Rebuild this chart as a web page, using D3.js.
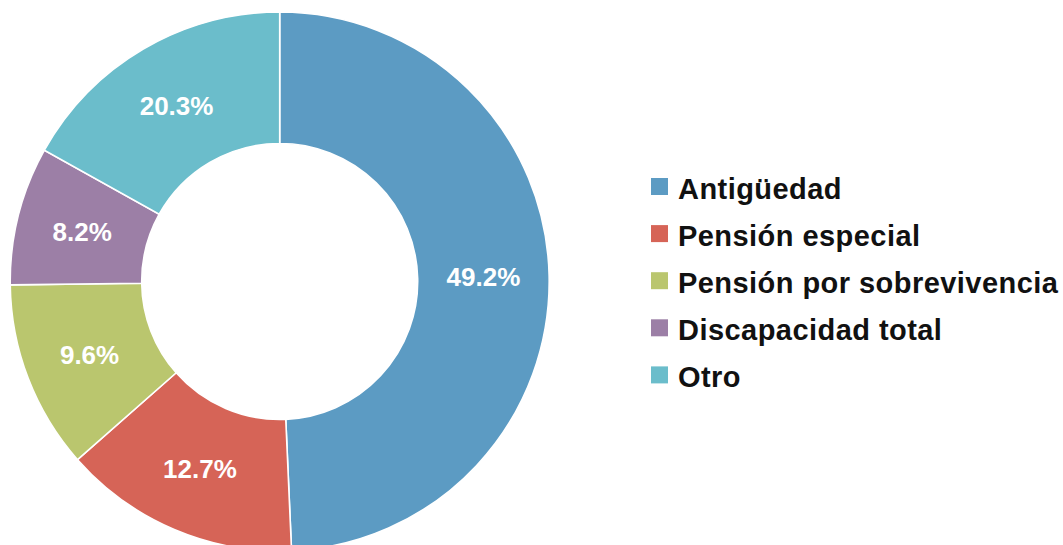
<!DOCTYPE html>
<html>
<head>
<meta charset="utf-8">
<script src="https://cdn.jsdelivr.net/npm/d3@7"></script>
<style>
  html, body { margin: 0; padding: 0; background: #ffffff; }
  svg { display: block; }
</style>
</head>
<body>
<svg id="chart" width="1063" height="545"></svg>
<script>
// Categories (legend order, clockwise from 12 o'clock)
const categories = ["Antigüedad", "Pensión especial", "Pensión por sobrevivencia", "Discapacidad total", "Otro"];
// Slice shares as drawn in the picture (measured from the slice angles)
const sliceValues = [49.3, 14.2, 11.3, 8.3, 16.9];
// Data-label texts as printed on the slices
const labelTexts = ["49.2%", "12.7%", "9.6%", "8.2%", "20.3%"];
const colors = ["#5C9BC3", "#D66457", "#BAC66E", "#9C7FA6", "#6BBDCB"];

const svg = d3.select("#chart");
const cx = 279.7, cy = 281.5;
const outerR = 269.5, innerR = 138;

const pie = d3.pie().sort(null).value(d => d.v).startAngle(0).endAngle(2 * Math.PI);
const data = categories.map((c, i) => ({ c, v: sliceValues[i], label: labelTexts[i], color: colors[i] }));
const arcs = pie(data);
const arc = d3.arc().innerRadius(innerR).outerRadius(outerR);

const g = svg.append("g").attr("transform", `translate(${cx},${cy})`);
g.selectAll("path.slice")
  .data(arcs)
  .join("path")
  .attr("class", "slice")
  .attr("d", arc)
  .attr("fill", d => d.data.color)
  .attr("stroke", "#ffffff")
  .attr("stroke-width", 1.6)
  .attr("stroke-linejoin", "miter");

g.selectAll("text.lbl")
  .data(arcs)
  .join("text")
  .attr("class", "lbl")
  .attr("transform", d => `translate(${arc.centroid(d)})`)
  .attr("text-anchor", "middle")
  .attr("dy", "0.36em")
  .attr("fill", "#ffffff")
  .attr("font-family", "'Liberation Sans', Arial, sans-serif")
  .attr("font-weight", "bold")
  .attr("font-size", 26)
  .text(d => d.data.label);

// Legend
const legendX = 651, legendY = 178, rowH = 47.1, sq = 17;
const leg = svg.append("g").attr("transform", `translate(${legendX},${legendY})`);
const rows = leg.selectAll("g.row")
  .data(data)
  .join("g")
  .attr("class", "row")
  .attr("transform", (d, i) => `translate(0,${i * rowH})`);
rows.append("rect")
  .attr("x", 0).attr("y", 0)
  .attr("width", sq).attr("height", sq)
  .attr("fill", d => d.color);
rows.append("text")
  .attr("x", 27)
  .attr("y", 21)
  .attr("fill", "#111111")
  .attr("font-family", "'Liberation Sans', Arial, sans-serif")
  .attr("font-weight", "bold")
  .attr("font-size", 29)
  .attr("letter-spacing", 0.45)
  .text(d => d.c);
</script>
</body>
</html>
